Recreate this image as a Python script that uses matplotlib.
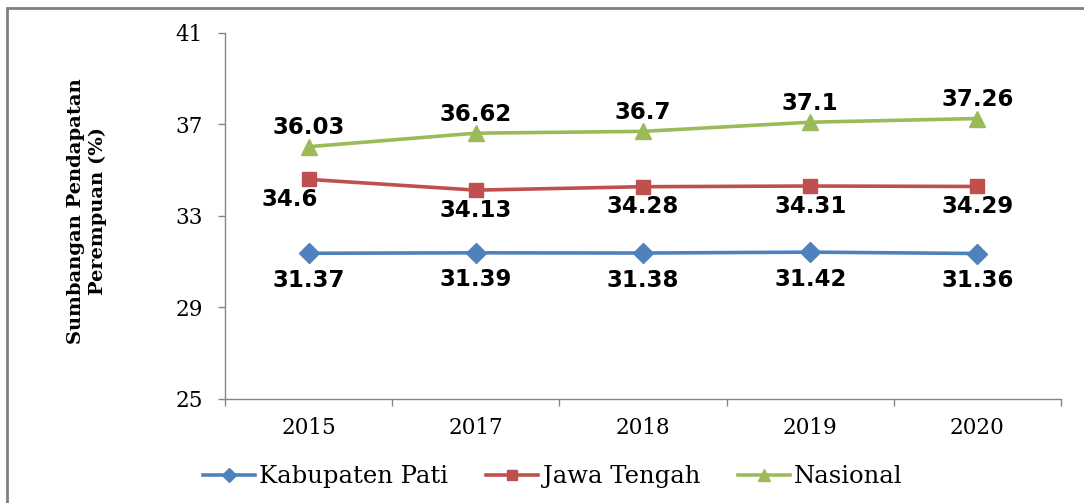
import matplotlib.pyplot as plt
from matplotlib.patches import Rectangle
import numpy as np

years = ["2015", "2017", "2018", "2019", "2020"]
kab_pati = [31.37, 31.39, 31.38, 31.42, 31.36]
jawa_tengah = [34.6, 34.13, 34.28, 34.31, 34.29]
nasional = [36.03, 36.62, 36.7, 37.1, 37.26]

blue = "#4F81BD"
red = "#C0504D"
green = "#9BBB59"
axis_grey = "#868686"

serif = ["DejaVu Serif"]
label_font = dict(family="DejaVu Sans", weight="bold", size=16.5)

fig = plt.figure(figsize=(10.84, 5.03), dpi=100)
ax = fig.add_axes([0.2076, 0.2068, 0.7712, 0.7276])

x = np.arange(len(years))
ax.plot(x, kab_pati, color=blue, lw=2.6, marker="D", ms=10, label="Kabupaten Pati")
ax.plot(x, jawa_tengah, color=red, lw=2.6, marker="s", ms=10.5, label="Jawa Tengah")
ax.plot(x, nasional, color=green, lw=2.6, marker="^", ms=12, label="Nasional")

# value labels: green above, red and blue below
for i, v in enumerate(nasional):
    ax.annotate(f"{v:g}", (x[i], v), xytext=(0, 13.5), textcoords="offset points",
                ha="center", va="center", **label_font)
for i, v in enumerate(jawa_tengah):
    dx = -14 if i == 0 else 0
    ax.annotate(f"{v:g}", (x[i], v), xytext=(dx, -14.5), textcoords="offset points",
                ha="center", va="center", **label_font)
for i, v in enumerate(kab_pati):
    ax.annotate(f"{v:g}", (x[i], v), xytext=(0, -19.5), textcoords="offset points",
                ha="center", va="center", **label_font)

ax.set_xlim(-0.5, len(years) - 0.5)
ax.set_ylim(25, 41)
ax.set_yticks([25, 29, 33, 37, 41])
ax.set_xticks(x)
ax.set_xticklabels(years)
ax.set_xticks(np.arange(-0.5, len(years)), minor=True)

ax.tick_params(axis="x", which="major", length=0, pad=13, labelsize=15.5, colors="black")
ax.tick_params(axis="x", which="minor", length=5, width=1, color=axis_grey)
ax.tick_params(axis="y", length=5, width=1, color=axis_grey, pad=11, labelsize=15.5)
for lab in ax.get_xticklabels() + ax.get_yticklabels():
    lab.set_family(serif)

for side in ["top", "right"]:
    ax.spines[side].set_visible(False)
for side in ["left", "bottom"]:
    ax.spines[side].set_color(axis_grey)
    ax.spines[side].set_linewidth(1)

fig.text(0.080, 0.58, "Sumbangan Pendapatan\nPerempuan (%)", rotation=90,
         ha="center", va="center", family=serif, weight="bold", fontsize=14,
         linespacing=1.25)

leg = fig.legend(loc="center", bbox_to_anchor=(0.51, 0.052), ncol=3, markerscale=0.75,
                 frameon=False, prop={"family": serif, "size": 17.5}, handlelength=2.15,
                 handletextpad=0.17, columnspacing=1.55)

# outer chart border
fig.patches.append(Rectangle((7 / 1084, -0.1), 1.2, 0.1 + (503 - 8) / 503,
                             transform=fig.transFigure, fill=False,
                             edgecolor="#808080", lw=2))

fig.savefig("out.png", dpi=100)
